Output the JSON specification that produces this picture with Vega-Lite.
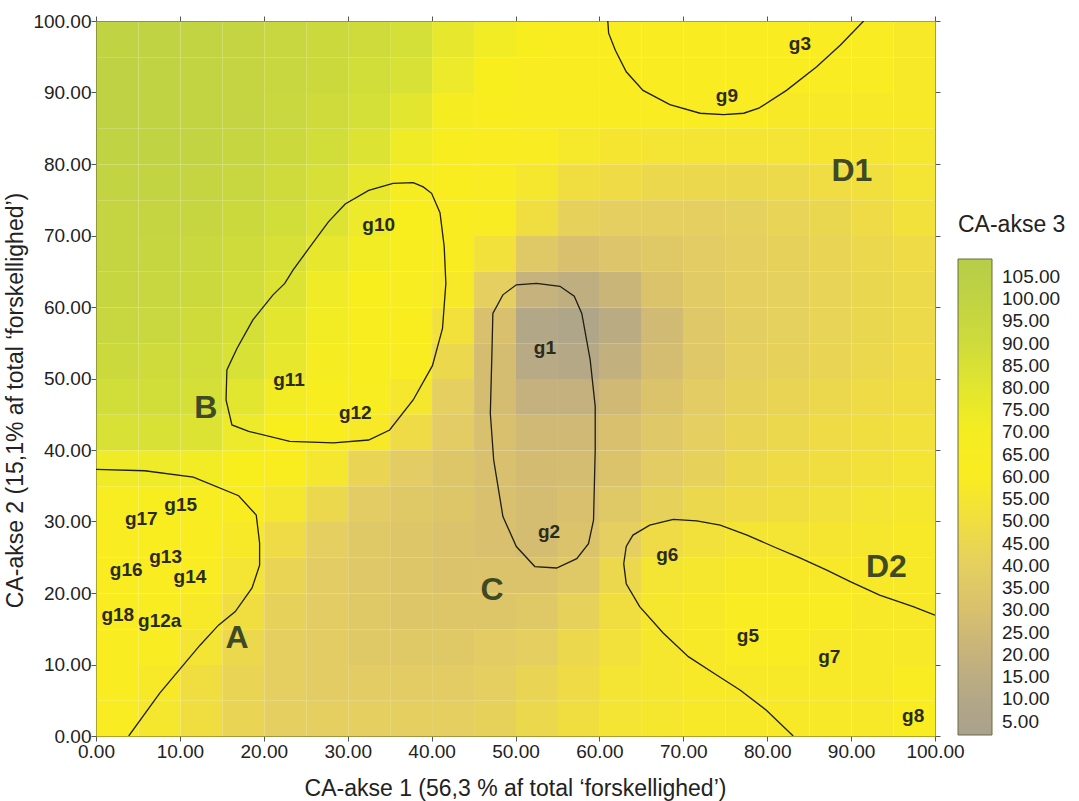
{
  "$schema": "https://vega.github.io/schema/vega-lite/v6.json",
  "width": 839,
  "height": 715,
  "autosize": {"type": "none"},
  "padding": {"left": 96, "top": 21, "right": 144, "bottom": 65},
  "background": "white",
  "config": {
    "view": {"stroke": "#5c5c34", "strokeWidth": 1},
    "font": "Liberation Sans",
    "axis": {"grid": false, "labelFont": "Liberation Sans", "titleFont": "Liberation Sans", "labelColor": "#222222", "titleColor": "#222222", "tickColor": "#555555", "domainColor": "#5c5c34", "tickSize": 5, "labelFontSize": 19, "titleFontSize": 23, "titleFontWeight": "normal"}
  },
  "datasets": {
    "grid": [
      {"y":97.5,"x":2.5,"v":100},{"y":97.5,"x":7.5,"v":100},{"y":97.5,"x":12.5,"v":98},{"y":97.5,"x":17.5,"v":96},{"y":97.5,"x":22.5,"v":94},{"y":97.5,"x":27.5,"v":92},{"y":97.5,"x":32.5,"v":90},{"y":97.5,"x":37.5,"v":86},{"y":97.5,"x":42.5,"v":78},{"y":97.5,"x":47.5,"v":72},{"y":97.5,"x":52.5,"v":66},{"y":97.5,"x":57.5,"v":63},{"y":97.5,"x":62.5,"v":62},{"y":97.5,"x":67.5,"v":62},{"y":97.5,"x":72.5,"v":62},{"y":97.5,"x":77.5,"v":62},{"y":97.5,"x":82.5,"v":62},{"y":97.5,"x":87.5,"v":61},{"y":97.5,"x":92.5,"v":60},{"y":97.5,"x":97.5,"v":58},
      {"y":92.5,"x":2.5,"v":102},{"y":92.5,"x":7.5,"v":100},{"y":92.5,"x":12.5,"v":98},{"y":92.5,"x":17.5,"v":96},{"y":92.5,"x":22.5,"v":94},{"y":92.5,"x":27.5,"v":92},{"y":92.5,"x":32.5,"v":88},{"y":92.5,"x":37.5,"v":84},{"y":92.5,"x":42.5,"v":76},{"y":92.5,"x":47.5,"v":68},{"y":92.5,"x":52.5,"v":63},{"y":92.5,"x":57.5,"v":62},{"y":92.5,"x":62.5,"v":62},{"y":92.5,"x":67.5,"v":62},{"y":92.5,"x":72.5,"v":62},{"y":92.5,"x":77.5,"v":62},{"y":92.5,"x":82.5,"v":62},{"y":92.5,"x":87.5,"v":60},{"y":92.5,"x":92.5,"v":60},{"y":92.5,"x":97.5,"v":58},
      {"y":87.5,"x":2.5,"v":102},{"y":87.5,"x":7.5,"v":100},{"y":87.5,"x":12.5,"v":98},{"y":87.5,"x":17.5,"v":96},{"y":87.5,"x":22.5,"v":93},{"y":87.5,"x":27.5,"v":90},{"y":87.5,"x":32.5,"v":86},{"y":87.5,"x":37.5,"v":80},{"y":87.5,"x":42.5,"v":70},{"y":87.5,"x":47.5,"v":64},{"y":87.5,"x":52.5,"v":62},{"y":87.5,"x":57.5,"v":61},{"y":87.5,"x":62.5,"v":60},{"y":87.5,"x":67.5,"v":60},{"y":87.5,"x":72.5,"v":60},{"y":87.5,"x":77.5,"v":60},{"y":87.5,"x":82.5,"v":58},{"y":87.5,"x":87.5,"v":58},{"y":87.5,"x":92.5,"v":58},{"y":87.5,"x":97.5,"v":58},
      {"y":82.5,"x":2.5,"v":100},{"y":82.5,"x":7.5,"v":100},{"y":82.5,"x":12.5,"v":98},{"y":82.5,"x":17.5,"v":95},{"y":82.5,"x":22.5,"v":92},{"y":82.5,"x":27.5,"v":88},{"y":82.5,"x":32.5,"v":82},{"y":82.5,"x":37.5,"v":74},{"y":82.5,"x":42.5,"v":66},{"y":82.5,"x":47.5,"v":62},{"y":82.5,"x":52.5,"v":60},{"y":82.5,"x":57.5,"v":57},{"y":82.5,"x":62.5,"v":55},{"y":82.5,"x":67.5,"v":54},{"y":82.5,"x":72.5,"v":54},{"y":82.5,"x":77.5,"v":54},{"y":82.5,"x":82.5,"v":54},{"y":82.5,"x":87.5,"v":55},{"y":82.5,"x":92.5,"v":55},{"y":82.5,"x":97.5,"v":56},
      {"y":77.5,"x":2.5,"v":98},{"y":77.5,"x":7.5,"v":98},{"y":77.5,"x":12.5,"v":96},{"y":77.5,"x":17.5,"v":94},{"y":77.5,"x":22.5,"v":90},{"y":77.5,"x":27.5,"v":85},{"y":77.5,"x":32.5,"v":78},{"y":77.5,"x":37.5,"v":70},{"y":77.5,"x":42.5,"v":64},{"y":77.5,"x":47.5,"v":61},{"y":77.5,"x":52.5,"v":56},{"y":77.5,"x":57.5,"v":50},{"y":77.5,"x":62.5,"v":48},{"y":77.5,"x":67.5,"v":46},{"y":77.5,"x":72.5,"v":46},{"y":77.5,"x":77.5,"v":46},{"y":77.5,"x":82.5,"v":47},{"y":77.5,"x":87.5,"v":49},{"y":77.5,"x":92.5,"v":51},{"y":77.5,"x":97.5,"v":54},
      {"y":72.5,"x":2.5,"v":96},{"y":72.5,"x":7.5,"v":96},{"y":72.5,"x":12.5,"v":95},{"y":72.5,"x":17.5,"v":92},{"y":72.5,"x":22.5,"v":88},{"y":72.5,"x":27.5,"v":82},{"y":72.5,"x":32.5,"v":76},{"y":72.5,"x":37.5,"v":68},{"y":72.5,"x":42.5,"v":63},{"y":72.5,"x":47.5,"v":60},{"y":72.5,"x":52.5,"v":50},{"y":72.5,"x":57.5,"v":42},{"y":72.5,"x":62.5,"v":40},{"y":72.5,"x":67.5,"v":40},{"y":72.5,"x":72.5,"v":40},{"y":72.5,"x":77.5,"v":41},{"y":72.5,"x":82.5,"v":43},{"y":72.5,"x":87.5,"v":45},{"y":72.5,"x":92.5,"v":48},{"y":72.5,"x":97.5,"v":52},
      {"y":67.5,"x":2.5,"v":96},{"y":67.5,"x":7.5,"v":95},{"y":67.5,"x":12.5,"v":93},{"y":67.5,"x":17.5,"v":90},{"y":67.5,"x":22.5,"v":85},{"y":67.5,"x":27.5,"v":78},{"y":67.5,"x":32.5,"v":72},{"y":67.5,"x":37.5,"v":66},{"y":67.5,"x":42.5,"v":62},{"y":67.5,"x":47.5,"v":52},{"y":67.5,"x":52.5,"v":36},{"y":67.5,"x":57.5,"v":30},{"y":67.5,"x":62.5,"v":33},{"y":67.5,"x":67.5,"v":36},{"y":67.5,"x":72.5,"v":38},{"y":67.5,"x":77.5,"v":40},{"y":67.5,"x":82.5,"v":42},{"y":67.5,"x":87.5,"v":44},{"y":67.5,"x":92.5,"v":46},{"y":67.5,"x":97.5,"v":48},
      {"y":62.5,"x":2.5,"v":95},{"y":62.5,"x":7.5,"v":94},{"y":62.5,"x":12.5,"v":92},{"y":62.5,"x":17.5,"v":88},{"y":62.5,"x":22.5,"v":82},{"y":62.5,"x":27.5,"v":74},{"y":62.5,"x":32.5,"v":68},{"y":62.5,"x":37.5,"v":65},{"y":62.5,"x":42.5,"v":58},{"y":62.5,"x":47.5,"v":40},{"y":62.5,"x":52.5,"v":20},{"y":62.5,"x":57.5,"v":16},{"y":62.5,"x":62.5,"v":22},{"y":62.5,"x":67.5,"v":32},{"y":62.5,"x":72.5,"v":37},{"y":62.5,"x":77.5,"v":40},{"y":62.5,"x":82.5,"v":41},{"y":62.5,"x":87.5,"v":43},{"y":62.5,"x":92.5,"v":45},{"y":62.5,"x":97.5,"v":47},
      {"y":57.5,"x":2.5,"v":94},{"y":57.5,"x":7.5,"v":93},{"y":57.5,"x":12.5,"v":90},{"y":57.5,"x":17.5,"v":86},{"y":57.5,"x":22.5,"v":80},{"y":57.5,"x":27.5,"v":72},{"y":57.5,"x":32.5,"v":67},{"y":57.5,"x":37.5,"v":64},{"y":57.5,"x":42.5,"v":52},{"y":57.5,"x":47.5,"v":30},{"y":57.5,"x":52.5,"v":10},{"y":57.5,"x":57.5,"v":7},{"y":57.5,"x":62.5,"v":14},{"y":57.5,"x":67.5,"v":26},{"y":57.5,"x":72.5,"v":35},{"y":57.5,"x":77.5,"v":39},{"y":57.5,"x":82.5,"v":41},{"y":57.5,"x":87.5,"v":43},{"y":57.5,"x":92.5,"v":45},{"y":57.5,"x":97.5,"v":47},
      {"y":52.5,"x":2.5,"v":92},{"y":52.5,"x":7.5,"v":90},{"y":52.5,"x":12.5,"v":88},{"y":52.5,"x":17.5,"v":84},{"y":52.5,"x":22.5,"v":78},{"y":52.5,"x":27.5,"v":70},{"y":52.5,"x":32.5,"v":67},{"y":52.5,"x":37.5,"v":62},{"y":52.5,"x":42.5,"v":46},{"y":52.5,"x":47.5,"v":28},{"y":52.5,"x":52.5,"v":13},{"y":52.5,"x":57.5,"v":11},{"y":52.5,"x":62.5,"v":18},{"y":52.5,"x":67.5,"v":28},{"y":52.5,"x":72.5,"v":35},{"y":52.5,"x":77.5,"v":40},{"y":52.5,"x":82.5,"v":42},{"y":52.5,"x":87.5,"v":44},{"y":52.5,"x":92.5,"v":46},{"y":52.5,"x":97.5,"v":48},
      {"y":47.5,"x":2.5,"v":88},{"y":47.5,"x":7.5,"v":88},{"y":47.5,"x":12.5,"v":86},{"y":47.5,"x":17.5,"v":80},{"y":47.5,"x":22.5,"v":72},{"y":47.5,"x":27.5,"v":66},{"y":47.5,"x":32.5,"v":65},{"y":47.5,"x":37.5,"v":56},{"y":47.5,"x":42.5,"v":40},{"y":47.5,"x":47.5,"v":28},{"y":47.5,"x":52.5,"v":19},{"y":47.5,"x":57.5,"v":19},{"y":47.5,"x":62.5,"v":25},{"y":47.5,"x":67.5,"v":32},{"y":47.5,"x":72.5,"v":38},{"y":47.5,"x":77.5,"v":42},{"y":47.5,"x":82.5,"v":44},{"y":47.5,"x":87.5,"v":46},{"y":47.5,"x":92.5,"v":48},{"y":47.5,"x":97.5,"v":50},
      {"y":42.5,"x":2.5,"v":84},{"y":42.5,"x":7.5,"v":84},{"y":42.5,"x":12.5,"v":82},{"y":42.5,"x":17.5,"v":76},{"y":42.5,"x":22.5,"v":68},{"y":42.5,"x":27.5,"v":64},{"y":42.5,"x":32.5,"v":58},{"y":42.5,"x":37.5,"v":48},{"y":42.5,"x":42.5,"v":38},{"y":42.5,"x":47.5,"v":30},{"y":42.5,"x":52.5,"v":25},{"y":42.5,"x":57.5,"v":25},{"y":42.5,"x":62.5,"v":30},{"y":42.5,"x":67.5,"v":35},{"y":42.5,"x":72.5,"v":40},{"y":42.5,"x":77.5,"v":44},{"y":42.5,"x":82.5,"v":46},{"y":42.5,"x":87.5,"v":48},{"y":42.5,"x":92.5,"v":50},{"y":42.5,"x":97.5,"v":52},
      {"y":37.5,"x":2.5,"v":74},{"y":37.5,"x":7.5,"v":75},{"y":37.5,"x":12.5,"v":72},{"y":37.5,"x":17.5,"v":68},{"y":37.5,"x":22.5,"v":64},{"y":37.5,"x":27.5,"v":56},{"y":37.5,"x":32.5,"v":44},{"y":37.5,"x":37.5,"v":38},{"y":37.5,"x":42.5,"v":34},{"y":37.5,"x":47.5,"v":30},{"y":37.5,"x":52.5,"v":27},{"y":37.5,"x":57.5,"v":28},{"y":37.5,"x":62.5,"v":32},{"y":37.5,"x":67.5,"v":38},{"y":37.5,"x":72.5,"v":42},{"y":37.5,"x":77.5,"v":46},{"y":37.5,"x":82.5,"v":48},{"y":37.5,"x":87.5,"v":50},{"y":37.5,"x":92.5,"v":52},{"y":37.5,"x":97.5,"v":54},
      {"y":32.5,"x":2.5,"v":65},{"y":32.5,"x":7.5,"v":66},{"y":32.5,"x":12.5,"v":65},{"y":32.5,"x":17.5,"v":62},{"y":32.5,"x":22.5,"v":56},{"y":32.5,"x":27.5,"v":46},{"y":32.5,"x":32.5,"v":38},{"y":32.5,"x":37.5,"v":36},{"y":32.5,"x":42.5,"v":34},{"y":32.5,"x":47.5,"v":30},{"y":32.5,"x":52.5,"v":28},{"y":32.5,"x":57.5,"v":30},{"y":32.5,"x":62.5,"v":36},{"y":32.5,"x":67.5,"v":42},{"y":32.5,"x":72.5,"v":46},{"y":32.5,"x":77.5,"v":48},{"y":32.5,"x":82.5,"v":50},{"y":32.5,"x":87.5,"v":52},{"y":32.5,"x":92.5,"v":54},{"y":32.5,"x":97.5,"v":56},
      {"y":27.5,"x":2.5,"v":62},{"y":27.5,"x":7.5,"v":64},{"y":27.5,"x":12.5,"v":62},{"y":27.5,"x":17.5,"v":58},{"y":27.5,"x":22.5,"v":48},{"y":27.5,"x":27.5,"v":40},{"y":27.5,"x":32.5,"v":36},{"y":27.5,"x":37.5,"v":34},{"y":27.5,"x":42.5,"v":32},{"y":27.5,"x":47.5,"v":30},{"y":27.5,"x":52.5,"v":28},{"y":27.5,"x":57.5,"v":32},{"y":27.5,"x":62.5,"v":40},{"y":27.5,"x":67.5,"v":48},{"y":27.5,"x":72.5,"v":52},{"y":27.5,"x":77.5,"v":54},{"y":27.5,"x":82.5,"v":54},{"y":27.5,"x":87.5,"v":55},{"y":27.5,"x":92.5,"v":56},{"y":27.5,"x":97.5,"v":58},
      {"y":22.5,"x":2.5,"v":62},{"y":22.5,"x":7.5,"v":62},{"y":22.5,"x":12.5,"v":60},{"y":22.5,"x":17.5,"v":54},{"y":22.5,"x":22.5,"v":44},{"y":22.5,"x":27.5,"v":38},{"y":22.5,"x":32.5,"v":35},{"y":22.5,"x":37.5,"v":34},{"y":22.5,"x":42.5,"v":32},{"y":22.5,"x":47.5,"v":32},{"y":22.5,"x":52.5,"v":32},{"y":22.5,"x":57.5,"v":36},{"y":22.5,"x":62.5,"v":46},{"y":22.5,"x":67.5,"v":54},{"y":22.5,"x":72.5,"v":56},{"y":22.5,"x":77.5,"v":58},{"y":22.5,"x":82.5,"v":58},{"y":22.5,"x":87.5,"v":58},{"y":22.5,"x":92.5,"v":58},{"y":22.5,"x":97.5,"v":58},
      {"y":17.5,"x":2.5,"v":62},{"y":17.5,"x":7.5,"v":62},{"y":17.5,"x":12.5,"v":58},{"y":17.5,"x":17.5,"v":50},{"y":17.5,"x":22.5,"v":42},{"y":17.5,"x":27.5,"v":38},{"y":17.5,"x":32.5,"v":36},{"y":17.5,"x":37.5,"v":34},{"y":17.5,"x":42.5,"v":34},{"y":17.5,"x":47.5,"v":34},{"y":17.5,"x":52.5,"v":36},{"y":17.5,"x":57.5,"v":42},{"y":17.5,"x":62.5,"v":50},{"y":17.5,"x":67.5,"v":56},{"y":17.5,"x":72.5,"v":58},{"y":17.5,"x":77.5,"v":60},{"y":17.5,"x":82.5,"v":60},{"y":17.5,"x":87.5,"v":60},{"y":17.5,"x":92.5,"v":58},{"y":17.5,"x":97.5,"v":58},
      {"y":12.5,"x":2.5,"v":62},{"y":12.5,"x":7.5,"v":60},{"y":12.5,"x":12.5,"v":54},{"y":12.5,"x":17.5,"v":46},{"y":12.5,"x":22.5,"v":40},{"y":12.5,"x":27.5,"v":38},{"y":12.5,"x":32.5,"v":36},{"y":12.5,"x":37.5,"v":36},{"y":12.5,"x":42.5,"v":36},{"y":12.5,"x":47.5,"v":38},{"y":12.5,"x":52.5,"v":40},{"y":12.5,"x":57.5,"v":46},{"y":12.5,"x":62.5,"v":52},{"y":12.5,"x":67.5,"v":56},{"y":12.5,"x":72.5,"v":58},{"y":12.5,"x":77.5,"v":60},{"y":12.5,"x":82.5,"v":60},{"y":12.5,"x":87.5,"v":58},{"y":12.5,"x":92.5,"v":58},{"y":12.5,"x":97.5,"v":58},
      {"y":7.5,"x":2.5,"v":62},{"y":7.5,"x":7.5,"v":58},{"y":7.5,"x":12.5,"v":50},{"y":7.5,"x":17.5,"v":44},{"y":7.5,"x":22.5,"v":40},{"y":7.5,"x":27.5,"v":38},{"y":7.5,"x":32.5,"v":38},{"y":7.5,"x":37.5,"v":38},{"y":7.5,"x":42.5,"v":38},{"y":7.5,"x":47.5,"v":40},{"y":7.5,"x":52.5,"v":44},{"y":7.5,"x":57.5,"v":48},{"y":7.5,"x":62.5,"v":54},{"y":7.5,"x":67.5,"v":56},{"y":7.5,"x":72.5,"v":58},{"y":7.5,"x":77.5,"v":58},{"y":7.5,"x":82.5,"v":58},{"y":7.5,"x":87.5,"v":58},{"y":7.5,"x":92.5,"v":58},{"y":7.5,"x":97.5,"v":60},
      {"y":2.5,"x":2.5,"v":60},{"y":2.5,"x":7.5,"v":56},{"y":2.5,"x":12.5,"v":50},{"y":2.5,"x":17.5,"v":44},{"y":2.5,"x":22.5,"v":40},{"y":2.5,"x":27.5,"v":40},{"y":2.5,"x":32.5,"v":40},{"y":2.5,"x":37.5,"v":40},{"y":2.5,"x":42.5,"v":40},{"y":2.5,"x":47.5,"v":42},{"y":2.5,"x":52.5,"v":46},{"y":2.5,"x":57.5,"v":50},{"y":2.5,"x":62.5,"v":54},{"y":2.5,"x":67.5,"v":56},{"y":2.5,"x":72.5,"v":58},{"y":2.5,"x":77.5,"v":58},{"y":2.5,"x":82.5,"v":58},{"y":2.5,"x":87.5,"v":58},{"y":2.5,"x":92.5,"v":58},{"y":2.5,"x":97.5,"v":62}
    ],
    "lines": [
      {"g":"A","i":1,"x":0,"y":37.3},{"g":"A","i":2,"x":5.8,"y":37.1},{"g":"A","i":3,"x":11.6,"y":36.2},{"g":"A","i":4,"x":17.0,"y":33.6},{"g":"A","i":5,"x":19.1,"y":30.9},{"g":"A","i":6,"x":19.5,"y":27.0},{"g":"A","i":7,"x":19.5,"y":23.9},{"g":"A","i":8,"x":18.6,"y":20.7},{"g":"A","i":9,"x":16.6,"y":17.4},{"g":"A","i":10,"x":14.6,"y":15.5},{"g":"A","i":11,"x":12.4,"y":12.7},{"g":"A","i":12,"x":7.6,"y":6.0},{"g":"A","i":13,"x":3.9,"y":0},
      {"g":"B","i":1,"x":37.8,"y":77.4},{"g":"B","i":2,"x":35.4,"y":77.3},{"g":"B","i":3,"x":32.5,"y":76.3},{"g":"B","i":4,"x":29.7,"y":74.4},{"g":"B","i":5,"x":27.7,"y":71.9},{"g":"B","i":6,"x":25.5,"y":68.4},{"g":"B","i":7,"x":23.5,"y":65.2},{"g":"B","i":8,"x":22.5,"y":63.3},{"g":"B","i":9,"x":21.1,"y":61.7},{"g":"B","i":10,"x":18.7,"y":58.2},{"g":"B","i":11,"x":16.8,"y":54.2},{"g":"B","i":12,"x":15.6,"y":51.2},{"g":"B","i":13,"x":15.5,"y":47.0},{"g":"B","i":14,"x":16.2,"y":43.5},{"g":"B","i":15,"x":18.2,"y":42.6},{"g":"B","i":16,"x":23.1,"y":41.2},{"g":"B","i":17,"x":28.3,"y":41.0},{"g":"B","i":18,"x":32.5,"y":41.4},{"g":"B","i":19,"x":35.0,"y":42.8},{"g":"B","i":20,"x":37.8,"y":47.0},{"g":"B","i":21,"x":40.1,"y":51.8},{"g":"B","i":22,"x":41.3,"y":57.0},{"g":"B","i":23,"x":41.7,"y":63.3},{"g":"B","i":24,"x":41.5,"y":68.5},{"g":"B","i":25,"x":41.0,"y":73.2},{"g":"B","i":26,"x":40.0,"y":75.9},{"g":"B","i":27,"x":39.0,"y":76.8},{"g":"B","i":28,"x":37.8,"y":77.4},
      {"g":"C","i":1,"x":52.5,"y":63.3},{"g":"C","i":2,"x":50.1,"y":63.1},{"g":"C","i":3,"x":48.5,"y":61.7},{"g":"C","i":4,"x":47.3,"y":59.1},{"g":"C","i":5,"x":47.2,"y":54.0},{"g":"C","i":6,"x":47.0,"y":45.1},{"g":"C","i":7,"x":47.4,"y":38.6},{"g":"C","i":8,"x":48.5,"y":30.7},{"g":"C","i":9,"x":50.1,"y":26.5},{"g":"C","i":10,"x":52.3,"y":23.7},{"g":"C","i":11,"x":54.9,"y":23.5},{"g":"C","i":12,"x":57.3,"y":24.8},{"g":"C","i":13,"x":58.7,"y":26.9},{"g":"C","i":14,"x":59.3,"y":30.2},{"g":"C","i":15,"x":59.5,"y":40.0},{"g":"C","i":16,"x":59.5,"y":46.1},{"g":"C","i":17,"x":58.9,"y":52.6},{"g":"C","i":18,"x":57.9,"y":59.1},{"g":"C","i":19,"x":57.0,"y":61.5},{"g":"C","i":20,"x":55.3,"y":62.9},{"g":"C","i":21,"x":52.5,"y":63.3},
      {"g":"D1","i":1,"x":61.0,"y":100},{"g":"D1","i":2,"x":61.1,"y":98.3},{"g":"D1","i":3,"x":61.9,"y":95.9},{"g":"D1","i":4,"x":63.2,"y":92.9},{"g":"D1","i":5,"x":65.2,"y":90.3},{"g":"D1","i":6,"x":68.4,"y":88.3},{"g":"D1","i":7,"x":72.0,"y":87.1},{"g":"D1","i":8,"x":74.8,"y":86.9},{"g":"D1","i":9,"x":77.2,"y":87.1},{"g":"D1","i":10,"x":79.0,"y":87.8},{"g":"D1","i":11,"x":82.3,"y":90.3},{"g":"D1","i":12,"x":85.9,"y":93.6},{"g":"D1","i":13,"x":88.7,"y":96.6},{"g":"D1","i":14,"x":91.5,"y":100},
      {"g":"D2","i":1,"x":100,"y":16.9},{"g":"D2","i":2,"x":97.4,"y":18.1},{"g":"D2","i":3,"x":93.4,"y":19.7},{"g":"D2","i":4,"x":89.9,"y":21.6},{"g":"D2","i":5,"x":87.1,"y":23.2},{"g":"D2","i":6,"x":83.9,"y":24.9},{"g":"D2","i":7,"x":80.7,"y":26.5},{"g":"D2","i":8,"x":77.6,"y":28.1},{"g":"D2","i":9,"x":74.4,"y":29.5},{"g":"D2","i":10,"x":71.6,"y":30.1},{"g":"D2","i":11,"x":68.8,"y":30.3},{"g":"D2","i":12,"x":66.0,"y":29.5},{"g":"D2","i":13,"x":64.0,"y":28.1},{"g":"D2","i":14,"x":63.2,"y":26.5},{"g":"D2","i":15,"x":62.9,"y":24.1},{"g":"D2","i":16,"x":63.2,"y":21.3},{"g":"D2","i":17,"x":64.8,"y":18.1},{"g":"D2","i":18,"x":67.6,"y":14.4},{"g":"D2","i":19,"x":70.6,"y":11.1},{"g":"D2","i":20,"x":73.6,"y":8.8},{"g":"D2","i":21,"x":76.8,"y":6.4},{"g":"D2","i":22,"x":79.9,"y":3.6},{"g":"D2","i":23,"x":83.1,"y":0}
    ],
    "labels": [
      {"t":"g17","x":5.4,"y":30.4,"kind":"small"},{"t":"g15","x":10.1,"y":32.3,"kind":"small"},{"t":"g16","x":3.6,"y":23.2,"kind":"small"},{"t":"g13","x":8.3,"y":25.0,"kind":"small"},{"t":"g14","x":11.2,"y":22.2,"kind":"small"},{"t":"g18","x":2.6,"y":16.9,"kind":"small"},{"t":"g12a","x":7.6,"y":16.1,"kind":"small"},{"t":"g11","x":23.0,"y":49.8,"kind":"small"},{"t":"g12","x":30.9,"y":45.2,"kind":"small"},{"t":"g10","x":33.7,"y":71.5,"kind":"small"},{"t":"g1","x":53.5,"y":54.3,"kind":"small"},{"t":"g2","x":54.0,"y":28.5,"kind":"small"},{"t":"g3","x":83.9,"y":96.8,"kind":"small"},{"t":"g9","x":75.2,"y":89.5,"kind":"small"},{"t":"g6","x":68.1,"y":25.3,"kind":"small"},{"t":"g5","x":77.7,"y":14.0,"kind":"small"},{"t":"g7","x":87.4,"y":11.0,"kind":"small"},{"t":"g8","x":97.4,"y":2.8,"kind":"small"},
      {"t":"A","x":16.8,"y":13.7,"kind":"big"},{"t":"B","x":13.1,"y":45.9,"kind":"big"},{"t":"C","x":47.2,"y":20.4,"kind":"big"},{"t":"D1","x":90.1,"y":79.0,"kind":"big"},{"t":"D2","x":94.2,"y":23.6,"kind":"big"}
    ]
  },
  "resolve": {"axis": {"x": "independent", "y": "independent"}},
  "layer": [
    {
      "data": {"name": "grid"},
      "mark": {"type": "rect"},
      "encoding": {
        "x": {"field": "x", "type": "quantitative", "bin": {"step": 5, "extent": [0, 100]}, "scale": {"domain": [0, 100], "nice": false, "zero": false}, "axis": null},
        "y": {"field": "y", "type": "quantitative", "bin": {"step": 5, "extent": [0, 100]}, "scale": {"domain": [0, 100], "nice": false, "zero": false}, "axis": null},
        "color": {
          "field": "v", "type": "quantitative",
          "scale": {"domain": [2, 10, 20, 30, 40, 50, 60, 68, 76, 85, 95, 109], "range": ["#a9a18d", "#b2a787", "#c6b27c", "#d8c06e", "#e4cf60", "#f0de40", "#f9ec22", "#f8ee1e", "#ecea2a", "#d6e036", "#c6d640", "#b6cd48"], "interpolate": "rgb"},
          "legend": {"type": "gradient", "orient": "none", "legendX": 862, "legendY": 193, "direction": "vertical", "gradientLength": 476, "gradientThickness": 34, "title": "CA-akse 3", "titleFont": "Liberation Sans", "titleFontSize": 23, "titleFontWeight": "normal", "titleColor": "#222222", "titlePadding": 22, "labelFont": "Liberation Sans", "labelFontSize": 19, "labelColor": "#222222", "labelOffset": 10, "labelOverlap": false, "values": [5, 10, 15, 20, 25, 30, 35, 40, 45, 50, 55, 60, 65, 70, 75, 80, 85, 90, 95, 100, 105], "format": ".2f", "gradientStrokeColor": "#6b6b45", "gradientStrokeWidth": 1}
        }
      }
    },
    {
      "data": {"name": "lines"},
      "mark": {"type": "line", "color": "#1e1e14", "strokeWidth": 1.3, "clip": true},
      "encoding": {
        "x": {"field": "x", "type": "quantitative", "scale": {"domain": [0, 100], "nice": false, "zero": false}, "axis": {"orient": "bottom", "values": [0, 10, 20, 30, 40, 50, 60, 70, 80, 90, 100], "format": ".2f", "title": "CA-akse 1 (56,3 % af total ‘forskellighed’)", "labelPadding": 1, "titleX": 419, "titleY": 52, "titleBaseline": "middle", "labelFlush": false}},
        "y": {"field": "y", "type": "quantitative", "scale": {"domain": [0, 100], "nice": false, "zero": false}, "axis": {"orient": "left", "values": [0, 10, 20, 30, 40, 50, 60, 70, 80, 90, 100], "format": ".2f", "title": "CA-akse 2 (15,1% af total ‘forskellighed’)", "labelPadding": 0, "titleX": -81, "titleY": 379, "titleAngle": -90, "titleBaseline": "middle", "titleAlign": "center", "labelFlush": false}},
        "detail": {"field": "g"},
        "order": {"field": "i", "type": "quantitative"}
      }
    },
    {
      "data": {"name": "labels"},
      "transform": [{"filter": "datum.kind === 'small'"}],
      "mark": {"type": "text", "font": "Liberation Sans", "fontWeight": "bold", "fontSize": 19, "color": "#2b2b1c", "align": "center", "baseline": "middle"},
      "encoding": {
        "x": {"field": "x", "type": "quantitative", "scale": {"domain": [0, 100], "nice": false, "zero": false}, "axis": {"orient": "top", "values": [0, 10, 20, 30, 40, 50, 60, 70, 80, 90, 100], "labels": false, "title": null, "domain": false}},
        "y": {"field": "y", "type": "quantitative", "scale": {"domain": [0, 100], "nice": false, "zero": false}, "axis": {"orient": "right", "values": [0, 10, 20, 30, 40, 50, 60, 70, 80, 90, 100], "labels": false, "title": null, "domain": false}},
        "text": {"field": "t"}
      }
    },
    {
      "data": {"name": "labels"},
      "transform": [{"filter": "datum.kind === 'big'"}],
      "mark": {"type": "text", "font": "Liberation Sans", "fontWeight": "bold", "fontSize": 32, "color": "#3f4a25", "align": "center", "baseline": "middle"},
      "encoding": {
        "x": {"field": "x", "type": "quantitative", "scale": {"domain": [0, 100], "nice": false, "zero": false}, "axis": null},
        "y": {"field": "y", "type": "quantitative", "scale": {"domain": [0, 100], "nice": false, "zero": false}, "axis": null},
        "text": {"field": "t"}
      }
    }
  ]
}
